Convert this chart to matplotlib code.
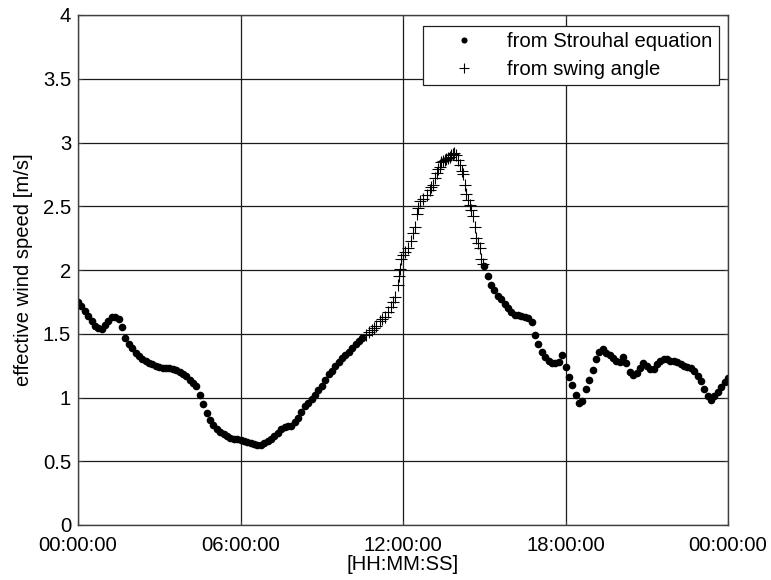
import numpy as np
import matplotlib
matplotlib.use("Agg")
import matplotlib.pyplot as plt

plt.rcParams['font.family'] = ['Liberation Sans', 'DejaVu Sans']

# Strouhal-equation estimate, morning part (hours 0 .. 10.5, every 7.5 min)
strouhal_am = [
    1.75, 1.72, 1.68, 1.64, 1.60, 1.56, 1.545, 1.54, 1.565, 1.60,
    1.63, 1.635, 1.615, 1.55, 1.47, 1.42, 1.385, 1.35, 1.325, 1.305,
    1.29, 1.27, 1.26, 1.25, 1.24, 1.235, 1.23, 1.23, 1.225, 1.215,
    1.20, 1.185, 1.165, 1.14, 1.11, 1.09, 1.02, 0.95, 0.88, 0.82,
    0.785, 0.755, 0.73, 0.71, 0.695, 0.685, 0.678, 0.672, 0.668, 0.66,
    0.65, 0.643, 0.635, 0.627, 0.63, 0.64, 0.655, 0.675, 0.695, 0.72,
    0.75, 0.77, 0.775, 0.78, 0.805, 0.84, 0.885, 0.93, 0.96, 0.99,
    1.02, 1.055, 1.09, 1.14, 1.185, 1.21, 1.245, 1.28, 1.31, 1.335,
    1.36, 1.39, 1.42, 1.445, 1.47,
]
am_start, am_end = 0.0, 10.5

# Strouhal-equation estimate, afternoon/evening part (hours 15 .. 24)
strouhal_pm = [
    2.03, 1.95, 1.88, 1.84, 1.80, 1.77, 1.73, 1.70, 1.67, 1.65,
    1.645, 1.64, 1.635, 1.62, 1.59, 1.49, 1.42, 1.36, 1.32, 1.29,
    1.27, 1.27, 1.275, 1.33, 1.24, 1.16, 1.10, 1.02, 0.96, 0.97,
    1.07, 1.14, 1.215, 1.30, 1.36, 1.38, 1.35, 1.33, 1.31, 1.29,
    1.28, 1.315, 1.27, 1.20, 1.18, 1.195, 1.23, 1.27, 1.245, 1.22,
    1.225, 1.26, 1.285, 1.30, 1.305, 1.29, 1.285, 1.275, 1.265, 1.25,
    1.24, 1.23, 1.21, 1.17, 1.13, 1.07, 1.01, 0.98, 1.01, 1.04,
    1.08, 1.12, 1.15,
]
pm_start, pm_end = 15.0, 24.0

# swing-angle estimate (hours, m/s)
swing_hours = [
    10.65, 10.75, 10.84, 10.93, 11.02, 11.14, 11.24, 11.33, 11.45, 11.57,
    11.64, 11.70, 11.80, 11.84, 11.88, 11.94, 12.00, 12.07, 12.19, 12.28,
    12.37, 12.44, 12.50, 12.56, 12.62, 12.74, 12.87, 12.99, 13.05, 13.11,
    13.17, 13.24, 13.30, 13.36, 13.42, 13.48, 13.54, 13.60, 13.67, 13.73,
    13.79, 13.84, 13.89, 13.97, 14.03, 14.10, 14.16, 14.22, 14.28, 14.34,
    14.40, 14.46, 14.52, 14.59, 14.65, 14.71, 14.77, 14.83, 14.89, 14.95,
]
swing_speed = [
    1.49, 1.51, 1.53, 1.545, 1.56, 1.60, 1.615, 1.63, 1.67, 1.71,
    1.75, 1.79, 1.88, 1.95, 2.01, 2.09, 2.12, 2.14, 2.17, 2.23,
    2.29, 2.34, 2.44, 2.49, 2.54, 2.56, 2.59, 2.63, 2.65, 2.67,
    2.72, 2.76, 2.79, 2.81, 2.85, 2.855, 2.86, 2.87, 2.88, 2.89,
    2.90, 2.91, 2.92, 2.90, 2.86, 2.82, 2.78, 2.75, 2.67, 2.60,
    2.55, 2.51, 2.47, 2.42, 2.34, 2.25, 2.21, 2.17, 2.09, 2.05,
]

xtick_hours = [0, 6, 12, 18, 24]
xtick_labels = ['00:00:00', '06:00:00', '12:00:00', '18:00:00', '00:00:00']
ytick_values = [0, 0.5, 1, 1.5, 2, 2.5, 3, 3.5, 4]
ytick_labels = ['0', '0.5', '1', '1.5', '2', '2.5', '3', '3.5', '4']

# sample times for the dot series
am_hours = np.linspace(am_start, am_end, len(strouhal_am))
pm_hours = np.linspace(pm_start, pm_end, len(strouhal_pm))
dot_hours = np.concatenate([am_hours, pm_hours])
dot_speed = np.concatenate([strouhal_am, strouhal_pm])

FS = 14.6

fig = plt.figure(figsize=(7.71, 5.80), dpi=100)
ax = fig.add_axes([78 / 771, 55 / 580, 650 / 771, 510 / 580])

ax.plot(dot_hours, dot_speed, linestyle='none', marker='o', markersize=5.5,
        color='black', markeredgewidth=0, label='from Strouhal equation')
ax.plot(swing_hours, swing_speed, linestyle='none', marker='+', markersize=9,
        color='black', markeredgewidth=0.8, label='from swing angle')

ax.set_xlim(0, 24)
ax.set_ylim(0, 4)
ax.set_xticks(xtick_hours)
ax.set_xticklabels(xtick_labels)
ax.set_yticks(ytick_values)
ax.set_yticklabels(ytick_labels)

ax.grid(True, color='#1a1a1a', linewidth=0.9)
ax.set_axisbelow(True)
for s in ax.spines.values():
    s.set_color('#404040')
    s.set_linewidth(1.0)

ax.tick_params(axis='both', direction='in', length=3, width=0.8,
               labelsize=FS, top=True, right=True, colors='#404040',
               labelcolor='black')
ax.tick_params(axis='x', pad=8)
ax.tick_params(axis='y', pad=5)

ax.set_xlabel('[HH:MM:SS]', fontsize=FS, labelpad=0)
ax.set_ylabel('effective wind speed [m/s]', fontsize=FS, labelpad=7)

leg = ax.legend(loc='upper right', bbox_to_anchor=(0.986, 0.978),
                fontsize=FS, frameon=True, fancybox=False, shadow=False,
                borderpad=0.3, handlelength=3.4, handletextpad=0.45,
                labelspacing=0.42, borderaxespad=0, markerscale=0.8)
leg.get_frame().set_edgecolor('#202020')
leg.get_frame().set_linewidth(0.9)
leg.get_frame().set_alpha(1)

fig.savefig('out.png', dpi=100)
